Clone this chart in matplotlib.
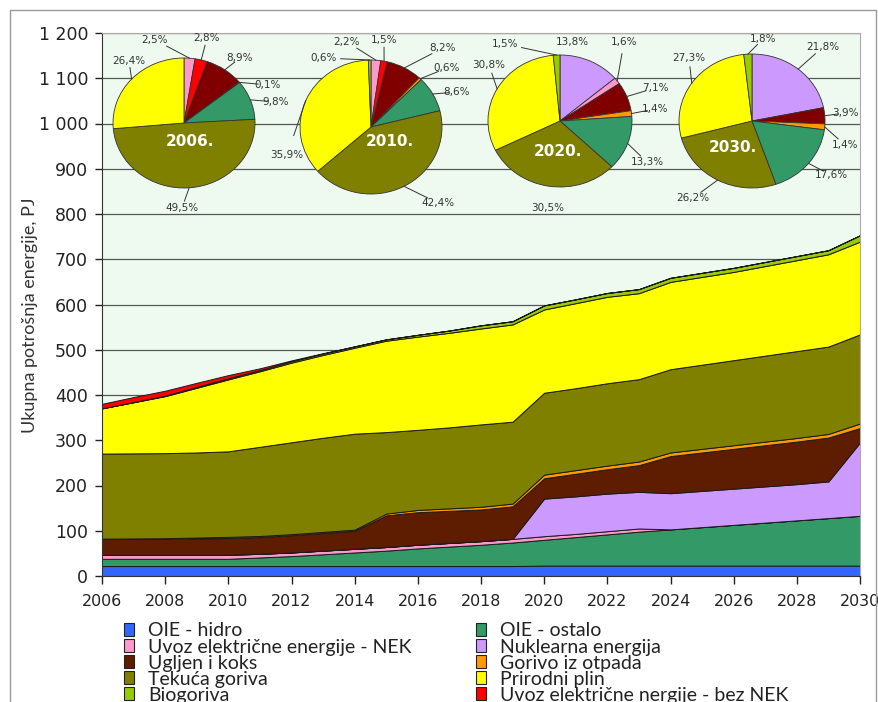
import numpy as np
import matplotlib.pyplot as plt
from matplotlib.patches import Rectangle
from matplotlib.ticker import FuncFormatter, MultipleLocator

# --- data (PJ per year, layer thickness) ---
years = list(range(2006, 2031))

hidro = [22, 22, 22, 22, 22, 22, 22, 22, 22, 22, 22, 22, 22, 22,
         23, 23, 23, 23, 23, 23, 23, 23, 23, 23, 23]
oie_ostalo = [16, 16, 16, 16, 16, 19, 22, 26, 30, 34, 39, 43, 47, 52,
              57, 63, 69, 75, 80, 85, 90, 95, 100, 105, 110]
uvoz_nek = [9, 9, 9, 9, 9, 8, 8, 8, 8, 8, 8, 8, 8, 8,
            8, 7, 7, 7, 0, 0, 0, 0, 0, 0, 0]
nuklearna = [0, 0, 0, 0, 0, 0, 0, 0, 0, 0, 0, 0, 0, 0,
             83, 83, 83, 81, 80, 80, 80, 80, 80, 81, 162]
ugljen = [35, 35, 35, 36, 37, 37, 38, 39, 40, 70, 72, 71, 70, 72,
          45, 50, 54, 59, 82, 85, 88, 91, 94, 97, 32]
otpad = [0.5, 1, 1.5, 2, 2.5, 2.5, 2.5, 2.5, 2.5, 4, 5, 5.5, 6, 6,
         8, 8, 8, 8, 8, 8, 8, 8, 8, 8, 10]
tekuca = [188, 188, 188, 188, 189, 197, 203, 208, 212, 180, 177, 179, 182, 181,
          181, 181, 182, 182, 184, 186, 188, 190, 192, 193, 197]
plin = [100, 113, 126, 143, 159, 167, 176, 183, 190, 202, 206, 209, 212, 215,
        184, 188, 191, 190, 193, 194, 195, 198, 201, 204, 205]
biogoriva = [0, 0.5, 1, 2, 2.5, 2.5, 3, 3, 3, 3, 4, 5, 7, 7,
             9, 8.5, 8.5, 9, 9, 9, 9, 9, 9, 9, 14]
uvoz_bez_nek = [10, 11, 11, 9, 7, 4, 2, 1, 0, 0, 0, 0, 0, 0,
                0, 0, 0, 0, 0, 0, 0, 0, 0, 0, 0]

# pie shares (%), order: nuklearna, uvoz NEK, uvoz bez NEK, ugljen, otpad, OIE, tekuca, plin, bio
pie_years = ['2006.', '2010.', '2020.', '2030.']
pie_2006 = [0, 2.5, 2.8, 8.9, 0.1, 9.8, 49.5, 26.4, 0]
pie_2010 = [0, 2.2, 1.5, 8.2, 0.6, 8.6, 42.4, 35.9, 0.6]
pie_2020 = [13.8, 1.6, 0, 7.1, 1.4, 13.3, 30.5, 30.8, 1.5]
pie_2030 = [21.8, 0, 0, 3.9, 1.4, 17.6, 26.2, 27.3, 1.8]

legend_labels = ['OIE - hidro', 'OIE - ostalo', 'Uvoz električne energije - NEK',
                 'Nuklearna energija', 'Ugljen i koks', 'Gorivo iz otpada',
                 'Tekuća goriva', 'Prirodni plin', 'Biogoriva',
                 'Uvoz električne nergije - bez NEK']

c_hidro = '#3366ff'
c_ost = '#339966'
c_nek = '#ff99cc'
c_nuk = '#cc99ff'
c_ugl = '#5e1c00'
c_otp = '#ff9900'
c_tek = '#808000'
c_plin = '#ffff00'
c_bio = '#99cc00'
c_red = '#ff0000'

W, H = 879, 702
fig = plt.figure(figsize=(W / 100, H / 100), dpi=100)


def fx(px):
    return px / W


def fy(py):
    return 1 - py / H


# outer frame
fig.patches.append(Rectangle((fx(10), fy(712)), fx(876) - fx(10), fy(10) - fy(712),
                             transform=fig.transFigure, fill=False,
                             edgecolor='#999999', linewidth=1.0))

ax = fig.add_axes([fx(102), fy(576), fx(860) - fx(102), fy(33) - fy(576)])
ax.set_facecolor('#eefaef')
ax.stackplot(years, hidro, oie_ostalo, uvoz_nek, nuklearna, ugljen, otpad,
             tekuca, plin, biogoriva, uvoz_bez_nek,
             colors=[c_hidro, c_ost, c_nek, c_nuk, c_ugl, c_otp, c_tek, c_plin, c_bio, c_red],
             edgecolor='#1a1a1a', linewidth=0.7, zorder=2)
ax.set_xlim(2006, 2030)
ax.set_ylim(0, 1200)
ax.xaxis.set_major_locator(MultipleLocator(2))
ax.yaxis.set_major_locator(MultipleLocator(100))
ax.yaxis.set_major_formatter(FuncFormatter(lambda v, p: f"{int(v):,}".replace(',', ' ')))
ax.yaxis.grid(True, color='#555555', linewidth=0.9, zorder=1)
ax.set_axisbelow(True)
ax.tick_params(axis='y', length=5, direction='out', labelsize=12.5, pad=5,
               colors='#222222', width=1)
ax.tick_params(axis='x', length=6, direction='out', labelsize=11.4, pad=7,
               colors='#222222', width=1)
for s in ['left', 'bottom']:
    ax.spines[s].set_color('#333333')
for s in ['top', 'right']:
    ax.spines[s].set_color('#aaaaaa')
ax.set_ylabel('Ukupna potrošnja energije, PJ', fontfamily='Lato', fontsize=13,
              color='#333333')
ax.yaxis.set_label_coords((38 - 102) / 758, 0.48)

# --- pies ---
pie_colors = [c_nuk, c_nek, c_red, '#800000', c_otp, c_ost, c_tek, c_plin, c_bio]
pie_data = [pie_2006, pie_2010, pie_2020, pie_2030]
pie_geom = [(184, 123, 71, 65), (371, 127, 71, 67), (560, 121, 72, 66), (752, 121, 73, 67)]
year_pos = [(190, 142), (390, 142), (558, 152), (733, 148)]
label_pos = [
    {1: (155, 40), 2: (207, 38), 3: (240, 58), 4: (268, 85), 5: (276, 102),
     6: (182, 208), 7: (129, 61)},
    {1: (347, 42), 2: (384, 40), 3: (443, 48), 4: (447, 68), 5: (457, 92),
     6: (438, 203), 7: (287, 155), 8: (324, 58)},
    {0: (572, 42), 1: (624, 42), 3: (655, 88), 4: (655, 109), 5: (647, 162),
     6: (548, 208), 7: (489, 65), 8: (505, 44)},
    {0: (823, 47), 3: (845, 113), 4: (845, 145), 5: (831, 175),
     6: (693, 198), 7: (689, 58), 8: (763, 39)},
]
# labels drawn without a leader line
no_leader = [(2, 0), (2, 6)]

for p, (vals, (cx, cy, rx, ry), (tx, ty), labs, yr) in enumerate(
        zip(pie_data, pie_geom, year_pos, label_pos, pie_years)):
    pax = fig.add_axes([fx(cx - rx), fy(cy + ry), 2 * rx / W, 2 * ry / H])
    idx = [i for i, v in enumerate(vals) if v > 0]
    wedges, _ = pax.pie([vals[i] for i in idx], colors=[pie_colors[i] for i in idx],
                        startangle=90, counterclock=False,
                        wedgeprops=dict(edgecolor='#333333', linewidth=0.6))
    pax.set_aspect('auto')
    pax.set_xlim(-1, 1)
    pax.set_ylim(-1, 1)
    pax.patch.set_alpha(0)
    pax.text((tx - cx) / rx, -(ty - cy) / ry, yr, color='white', fontsize=11,
             fontweight='bold', ha='center', va='center')
    for w, i in zip(wedges, idx):
        lx, ly = labs[i]
        dx, dy = (lx - cx) / rx, -(ly - cy) / ry
        txt = f"{vals[i]:.1f}".replace('.', ',') + '%'
        pax.text(dx, dy, txt, fontsize=7.5, color='#333333', ha='center', va='center',
                 clip_on=False)
        ang = np.deg2rad((w.theta1 + w.theta2) / 2)
        ex, ey = np.cos(ang), np.sin(ang)
        r = np.hypot(dx, dy)
        if r > 1.15 and (p, i) not in no_leader:
            sx = dx - (dx - ex) * 0.28 / r * 1.6
            sy = dy - (dy - ey) * 0.28 / r * 1.6
            pax.plot([sx, ex], [sy, ey], color='#333333', lw=0.7, clip_on=False)

# --- legend ---
leg_colors = [c_hidro, c_ost, c_nek, c_nuk, c_ugl, c_otp, c_tek, c_plin, c_bio, c_red]
rows_y = [630, 646, 662, 678, 694]
for k, (lab, col) in enumerate(zip(legend_labels, leg_colors)):
    r, c = k // 2, k % 2
    sq_x = 124 if c == 0 else 476
    y = rows_y[r]
    fig.patches.append(Rectangle((fx(sq_x), fy(y + 6)), 10 / W, 13 / H,
                                 transform=fig.transFigure, facecolor=col,
                                 edgecolor='#222222', linewidth=0.8))
    fig.text(fx(sq_x + 24), fy(y + 1), lab, fontfamily='Lato', fontsize=14,
             color='#222222', va='center', ha='left')

fig.savefig('out.png', dpi=100)
